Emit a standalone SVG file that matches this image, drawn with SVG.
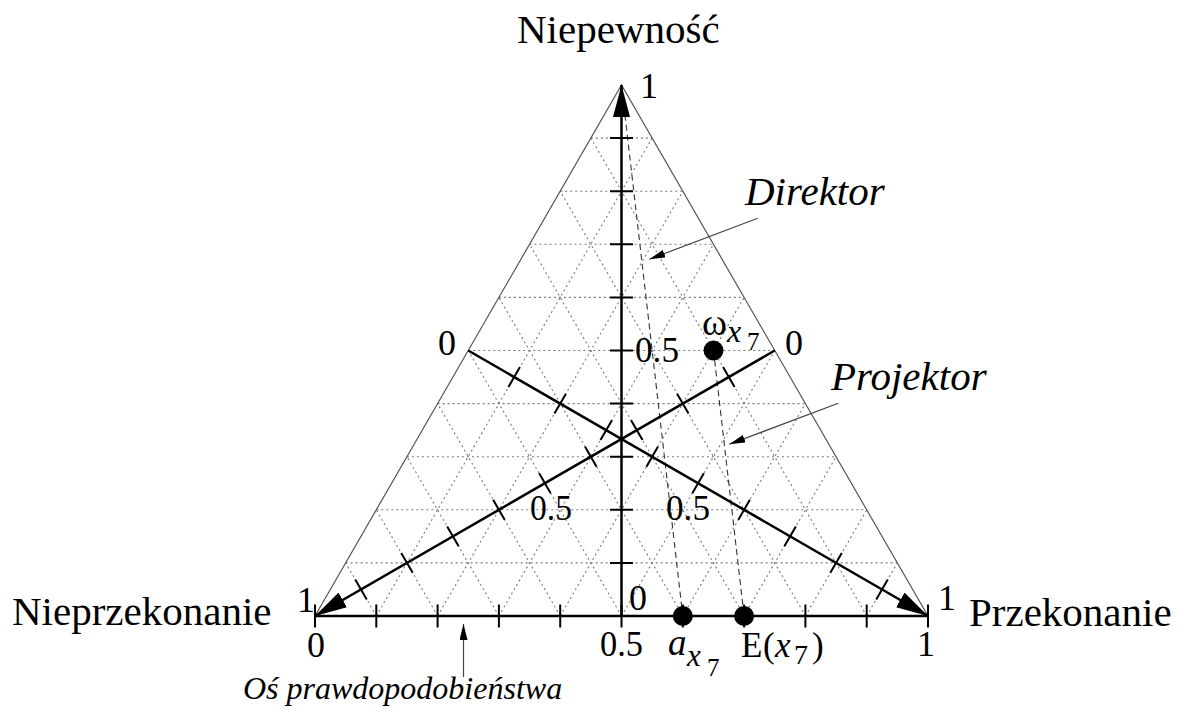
<svg xmlns="http://www.w3.org/2000/svg" width="1181" height="716" viewBox="0 0 1181 716">
<style>
.grid{fill:none;stroke:#7a7a7a;stroke-width:1.1;stroke-dasharray:2 3}
.edge{fill:none;stroke:#555;stroke-width:1.2}
.axis{fill:none;stroke:#000;stroke-width:2.5}
.tick{fill:none;stroke:#000;stroke-width:2}
.dash{fill:none;stroke:#333;stroke-width:1.1;stroke-dasharray:6 4}
.ptr{fill:none;stroke:#444;stroke-width:1.2}
.t{font-family:"Liberation Serif","Times New Roman",serif;fill:#000}
.n{font-size:36px}
.big{font-size:41px}
.it{font-style:italic}
</style>
<defs>
<marker id="ah" markerUnits="userSpaceOnUse" markerWidth="32" markerHeight="17" refX="32" refY="8.5" orient="auto"><path d="M0,0 L32,8.5 L0,17 Z" fill="#000"/></marker>
<marker id="sh" markerUnits="userSpaceOnUse" markerWidth="16" markerHeight="8" refX="16" refY="4" orient="auto"><path d="M0,0 L16,4 L0,8 Z" fill="#000"/></marker>
</defs>
<rect width="1181" height="716" fill="#fff"/>
<g id="grid">
<path class="grid" d="M345.65,562.9 L897.35,562.9 M376.3,509.8 L866.7,509.8 M406.95,456.7 L836.05,456.7 M437.6,403.6 L805.4,403.6 M468.25,350.5 L774.75,350.5 M498.9,297.4 L744.1,297.4 M529.55,244.3 L713.45,244.3 M560.2,191.2 L682.8,191.2 M590.85,138.1 L652.15,138.1"/>
<path class="grid" d="M376.3,616 L345.65,562.9 M437.6,616 L376.3,509.8 M498.9,616 L406.95,456.7 M560.2,616 L437.6,403.6 M621.5,616 L468.25,350.5 M682.8,616 L498.9,297.4 M744.1,616 L529.55,244.3 M805.4,616 L560.2,191.2 M866.7,616 L590.85,138.1"/>
<path class="grid" d="M376.3,616 L652.15,138.1 M437.6,616 L682.8,191.2 M498.9,616 L713.45,244.3 M560.2,616 L744.1,297.4 M621.5,616 L774.75,350.5 M682.8,616 L805.4,403.6 M744.1,616 L836.05,456.7 M805.4,616 L866.7,509.8 M866.7,616 L897.35,562.9"/>
</g>
<g id="triangle">
<path class="edge" d="M315,616 L621.5,85 L928,616"/>
</g>
<g id="connectors">
<line class="dash" x1="621.5" y1="85" x2="682.8" y2="616"/>
<line class="dash" x1="713.5" y1="350.5" x2="744.1" y2="616"/>
<line class="axis" x1="315" y1="616" x2="928" y2="616"/>
<line class="axis" x1="621.5" y1="616" x2="621.5" y2="85" marker-end="url(#ah)"/>
<line class="axis" x1="468.25" y1="350.5" x2="928" y2="616" marker-end="url(#ah)"/>
<line class="axis" x1="774.75" y1="350.5" x2="315" y2="616" marker-end="url(#ah)"/>
<path class="tick" d="M315,604.5 V627.5 M376.3,604.5 V627.5 M437.6,604.5 V627.5 M498.9,604.5 V627.5 M560.2,604.5 V627.5 M621.5,604.5 V627.5 M682.8,604.5 V627.5 M744.1,604.5 V627.5 M805.4,604.5 V627.5 M866.7,604.5 V627.5 M928,604.5 V627.5"/>
<path class="tick" d="M610,562.9 H633 M610,509.8 H633 M610,456.7 H633 M610,403.6 H633 M610,350.5 H633 M610,297.4 H633 M610,244.3 H633 M610,191.2 H633 M610,138.1 H633"/>
<path class="tick" d="M519.95,367.09 L508.45,387.01 M565.95,393.64 L554.45,413.56 M611.95,420.19 L600.45,440.11 M657.9,446.74 L646.4,466.66 M703.85,473.29 L692.35,493.21 M749.85,499.84 L738.35,519.76 M795.85,526.39 L784.35,546.31 M841.8,552.94 L830.3,572.86 M887.75,579.49 L876.25,599.41"/>
<path class="tick" d="M723.05,367.09 L734.55,387.01 M677.05,393.64 L688.55,413.56 M631.05,420.19 L642.55,440.11 M585.1,446.74 L596.6,466.66 M539.15,473.29 L550.65,493.21 M493.15,499.84 L504.65,519.76 M447.15,526.39 L458.65,546.31 M401.2,552.94 L412.7,572.86 M355.25,579.49 L366.75,599.41"/>
<line class="ptr" x1="757.7" y1="218.3" x2="649.3" y2="259.3" marker-end="url(#sh)"/>
<line class="ptr" x1="838.3" y1="403.3" x2="729.3" y2="444.3" marker-end="url(#sh)"/>
<line class="ptr" x1="463.5" y1="677" x2="463.5" y2="624" marker-end="url(#sh)"/>
</g>
<g id="omega">
<circle cx="713.5" cy="350.5" r="10" fill="#000"/>
<text class="t" x="702" y="335" font-size="38">ω<tspan class="it" x="727" y="342" font-size="32">x</tspan><tspan x="747" y="350" font-size="25">7</tspan></text>
</g>
<g id="a-point">
<circle cx="682.8" cy="616" r="10" fill="#000"/>
<text class="t it" x="668" y="655" font-size="37">a<tspan x="687" y="666" font-size="31">x</tspan><tspan x="707" y="676" font-size="25" font-style="normal">7</tspan></text>
</g>
<g id="e-point">
<circle cx="744.1" cy="616" r="10" fill="#000"/>
<text class="t" x="741" y="657" font-size="35">E<tspan x="763">(</tspan><tspan class="it" x="775">x</tspan><tspan x="794" y="664" font-size="28">7</tspan><tspan x="812" y="657">)</tspan></text>
</g>
<g id="labels">
<text class="t big" x="517" y="43">Niepewność</text>
<text class="t big" x="12" y="625">Nieprzekonanie</text>
<text class="t big" x="969" y="626">Przekonanie</text>
<text class="t big it" x="745" y="205">Direktor</text>
<text class="t big it" x="831" y="390">Projektor</text>
<text class="t it" x="243" y="699" font-size="32">Oś prawdopodobieństwa</text>
<text class="t n" x="640" y="98">1</text>
<text class="t n" x="438" y="355">0</text>
<text class="t n" x="785" y="355">0</text>
<text class="t n" x="635" y="362" textLength="44" lengthAdjust="spacingAndGlyphs">0.5</text>
<text class="t n" x="530" y="520" textLength="42" lengthAdjust="spacingAndGlyphs">0.5</text>
<text class="t n" x="666" y="520" textLength="44" lengthAdjust="spacingAndGlyphs">0.5</text>
<text class="t n" x="629" y="610">0</text>
<text class="t n" x="297" y="612">1</text>
<text class="t n" x="307" y="657">0</text>
<text class="t n" x="600" y="656" textLength="43" lengthAdjust="spacingAndGlyphs">0.5</text>
<text class="t n" x="917" y="656">1</text>
<text class="t n" x="938" y="610">1</text>
</g>
</svg>
